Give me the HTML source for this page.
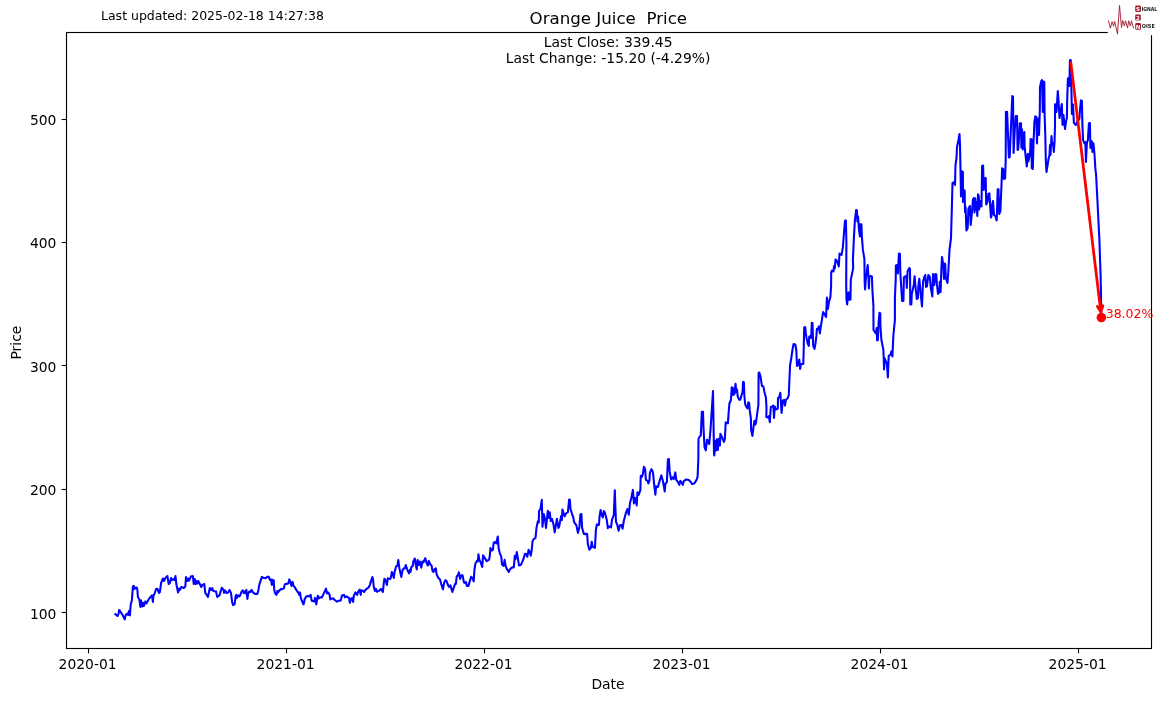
<!DOCTYPE html>
<html lang="en">
<head>
<meta charset="utf-8">
<title>Orange Juice Price</title>
<style>
html,body{margin:0;padding:0;background:#fff;}
body{width:1163px;height:701px;overflow:hidden;}
svg{display:block;mix-blend-mode:multiply;}
text{font-family:"DejaVu Sans","Liberation Sans",sans-serif;fill:#000;}
.t10{font-size:13.89px;}
.t9{font-size:12.5px;}
.t12{font-size:16.67px;}
</style>
</head>
<body>
<svg width="1163" height="701" viewBox="0 0 1163 701">
<text class="t9" x="101" y="20" >Last updated: 2025-02-18 14:27:38</text>
<text class="t12" x="608.3" y="24.3" text-anchor="middle" xml:space="preserve" style="white-space:pre">Orange Juice  Price</text>
<text class="t10" x="608.1" y="47.2" text-anchor="middle">Last Close: 339.45</text>
<text class="t10" x="608.1" y="63.3" text-anchor="middle">Last Change: -15.20 (-4.29%)</text>
<text class="t10" x="608" y="689" text-anchor="middle">Date</text>
<text class="t10" transform="translate(21.1,342.6) rotate(-90)" text-anchor="middle">Price</text>
<g stroke="#000" stroke-width="1.11" fill="none">
<line x1="61.64" y1="612.5" x2="66.5" y2="612.5"/>
<line x1="61.64" y1="489.5" x2="66.5" y2="489.5"/>
<line x1="61.64" y1="365.5" x2="66.5" y2="365.5"/>
<line x1="61.64" y1="242.5" x2="66.5" y2="242.5"/>
<line x1="61.64" y1="119.5" x2="66.5" y2="119.5"/>
<line x1="88.5" y1="648.5" x2="88.5" y2="653.36"/>
<line x1="286.5" y1="648.5" x2="286.5" y2="653.36"/>
<line x1="484.5" y1="648.5" x2="484.5" y2="653.36"/>
<line x1="682.5" y1="648.5" x2="682.5" y2="653.36"/>
<line x1="880.5" y1="648.5" x2="880.5" y2="653.36"/>
<line x1="1078.5" y1="648.5" x2="1078.5" y2="653.36"/>
</g>
<text class="t10" x="56.4" y="618.7" text-anchor="end">100</text>
<text class="t10" x="56.4" y="494.7" text-anchor="end">200</text>
<text class="t10" x="56.4" y="371.7" text-anchor="end">300</text>
<text class="t10" x="56.4" y="247.7" text-anchor="end">400</text>
<text class="t10" x="56.4" y="124.7" text-anchor="end">500</text>
<text class="t10" x="87.6" y="669.1" text-anchor="middle">2020-01</text>
<text class="t10" x="285.6" y="669.1" text-anchor="middle">2021-01</text>
<text class="t10" x="483.6" y="669.1" text-anchor="middle">2022-01</text>
<text class="t10" x="681.6" y="669.1" text-anchor="middle">2023-01</text>
<text class="t10" x="879.6" y="669.1" text-anchor="middle">2024-01</text>
<text class="t10" x="1077.6" y="669.1" text-anchor="middle">2025-01</text>
<polyline fill="none" stroke="#0000ff" stroke-width="2.08" stroke-linejoin="round" stroke-linecap="butt" points="114.5,613.7 116,614.7 117.5,616.1 118.5,613.9 119.2,609.9 120.5,611.9 122.5,614.9 124.7,619.4 125.7,614.9 127.4,613.7 128.1,614.9 128.9,611.1 129.9,615.4 130.7,604.9 131.9,599.9 132.9,586.5 133.7,585.8 134.4,589 135.4,587.8 136.7,587.5 137.4,590 137.9,596.9 139.4,599.9 140.4,606.9 141.1,600.4 142.4,606.4 143.4,602.9 143.9,605.9 145.4,601.4 146.4,603.4 148.9,598.9 151.9,595.4 152.9,601.9 153.4,595.9 154.4,594 156.1,589 157.4,588.7 158.9,593 159.9,592 161.1,583 162.9,578.5 163.9,581 165.4,578 167.4,576 168.7,584 169.9,583 171.1,578 172.1,580 173.4,579 174.4,580 175.5,576 176.3,584 178.1,592.5 179.3,588.5 179.8,590 181.3,587 183.8,588 185.3,586.5 186,577 187.3,581 188.3,578.5 189.3,580.5 190.8,576.5 192.8,576 193.8,584 194.8,579 195.8,584 196.6,581 197.3,583.5 198.3,581 199.8,584 201.3,587 202.3,585 204.3,584 205.3,593 208,596.9 209.8,588 211,590 212.3,588 213.3,591 215.8,591.5 216,591.4 217.2,596.9 219.5,595.4 220.8,590.9 221.8,587.7 223.5,589.9 224,592.9 225,590.4 226.5,592.9 228.2,592.4 229.5,589.9 231,592.9 232.1,601.9 233.1,605.1 234.7,603.9 235.6,596.4 236.2,594.9 236.9,597.9 238.1,595.4 239.4,596.4 240.4,594.9 241.4,591.9 242.7,590.4 243.7,592.9 244.4,591.4 245.2,593.4 246.4,589.9 246.9,594.4 247.4,598.9 248.1,593.9 249.4,591.4 250.4,591.9 251.7,589.9 252.9,592.4 254.9,593.9 257.4,593.9 258.4,589.9 259.4,584.4 260.7,580.4 261.9,576.9 263.4,577.9 265.9,578.1 266.9,576.9 268.7,576.7 269.9,579.9 270.9,579.4 271.9,584.9 272.7,579.9 273.7,580.4 274.2,588.9 274.9,592.9 276.4,594.9 277.4,590.9 278.1,592.4 279.4,590.4 280.9,588.9 281.8,589.4 283.8,588.4 284.8,584.4 285.8,583.9 287.3,583.9 288.3,583.4 289.3,579.4 290.3,581.9 291.5,585.9 292.6,581.9 293.6,585.9 294.8,587.4 296.3,589.9 298.3,592.9 299.3,594.9 300,592.4 300.8,597.9 302.3,601.9 303.5,604.4 304.8,598.9 306.3,596.4 307.8,595.9 309.3,596.4 310.6,594.9 311.8,600.9 313.3,601.1 314.3,601.4 315,597.9 316.3,604.4 317,599.9 317.8,595.7 318.8,598.4 320.3,597.4 321.8,596.9 322,597.4 322.8,595.4 324,592.9 326,588.7 327,593.4 328,592.4 329.5,594.4 330.3,599.4 331.5,598.9 333,598.2 334.5,599.7 337,601.7 338.9,600.7 340.9,600.4 341.9,595.4 343.9,594.9 344.9,597.4 346.4,596.4 348.9,597.9 349.9,602.7 351.1,598.4 352.4,598.1 353.1,601.9 353.9,595.4 355.4,592.4 357.1,594.9 358.1,591.9 359.7,589.7 360.7,594.9 361.4,590.4 362.9,590.7 364.1,591.9 365.9,589.4 368.4,587.7 369.9,584.9 371.4,579.9 372.4,577.1 373.1,579.9 373.7,585.9 374.9,590.9 375.9,588.9 376.9,591.7 378.9,590.9 380.9,588.9 382.9,591.9 383.7,583.9 384.4,578.7 385.9,580.9 386.9,584.9 387.8,578.4 390.3,578.9 391,576.9 391.8,572.1 393,574.4 393.8,577.9 394.6,571.9 396.1,566.4 397.3,565.9 398.3,560 399.3,567.9 401.3,577.1 402.6,569.9 403.8,568.4 404.8,568.4 405.8,565 407.3,569.9 409,573.4 409.8,569.9 410.6,571.9 411.3,567.1 412.8,565.9 413.3,561.5 414.8,558.5 415.8,565 416.8,569.4 417.6,560 418.8,565 419.8,561.5 421.3,567.7 422.3,561.5 423.3,562.5 425.3,558.2 426.8,563.5 427.8,565.4 428,565.4 428.8,560.9 430,563.9 431.5,565.4 432.5,570.9 433.5,571.9 434.5,569.4 435.8,568.4 436.5,573.9 438,577.4 440,579.4 441.5,584.9 443,589.4 444.1,582.9 445.4,580.1 446.7,581.4 447.9,584.9 449.1,586.9 450.4,585.4 451.4,588.9 452.4,591.9 453.7,587.9 455.1,583.9 455.9,583.9 456.7,576.4 457.9,575.4 458.9,572.4 460.1,578.9 461.4,575.4 462.6,575.4 463.9,582.4 464.9,582.9 465.9,581.9 466.9,585.9 468.4,585.9 469.9,580.9 471.1,576.7 472.4,577.9 473.7,581.4 474.4,569.9 475.4,563.9 476.9,560.9 477.9,561.4 478.4,554.2 479.4,559.9 480.9,562.9 482.2,566.9 483.1,555.4 484.4,557.4 486.7,561.1 489.1,559.7 489.9,555 490.4,548 491.7,550.5 492.9,550 493.6,543 494.6,542 496.3,543.5 497,540 497.8,536.5 498.6,548 499.8,553 501.3,556.9 502,564.4 503.6,565.9 504.6,559.9 505.6,565.9 506.8,568.9 508.8,571.9 510.3,568.9 512.3,567.4 513.8,567.4 514.8,555.9 515.6,558.9 516.8,552 517.8,557.9 519,565.4 520.8,564.9 522.3,561.9 523.8,557.9 525,553.8 526.3,554 527.3,556.7 528.6,549.8 529.8,552.5 530.8,555.7 531.8,549 532.6,541 533.8,539 534,538.9 535.5,537.9 536.5,527.9 537.8,521.4 538.8,522.4 539,511 540.5,509 541.8,499.8 542.5,526.7 543.8,514 545,518.9 546,527.9 547.8,510.8 548.8,517.9 549.7,512.2 550.7,520.9 551.9,518.9 553.4,523.9 554.7,532.4 556.9,518.9 558.4,527.9 559.1,526.9 560.4,519.9 561.1,516.1 561.9,519.9 562.4,509.5 563.4,512.5 564.7,516.4 565.9,513.5 567.9,512.2 569.1,499.5 569.9,500 570.4,508.5 571.9,513.5 573.4,517.9 574.1,522.1 576.4,525.4 577.9,532.9 579.4,526.9 580.4,514.5 581.4,514 582.1,527.9 583.9,533.9 585.4,534.1 587.1,533.9 587.9,544.4 589.4,549.7 590.9,547.9 591.7,541.7 592.7,546.9 594.9,547.9 595.9,529.9 596.9,524.4 598.9,524.9 599.6,516.1 600.6,510 601.6,515 602.8,517.4 603.8,511 604.8,512.5 606.8,519.9 607.8,528.1 609.3,526.4 611,527.4 612,519.9 613.8,515 614.8,490.4 615.3,505 616,521.9 617.3,524.9 618.6,530.7 619.8,525.4 621.3,524.9 622.6,528.7 623.8,520.9 625.8,513.2 627.3,509 628.8,514.8 630,503 631.3,498 632.9,489.9 633.9,503.4 635.1,497.9 636.7,505.4 637.4,492.4 638.7,494.9 639.7,491.9 640.4,489.9 640.7,475.9 641.9,476.9 642.9,473.9 643.9,466.7 645.1,468.9 645.9,479.9 647.4,480.7 648.4,483.4 649.4,480.9 649.9,472.9 651.4,469.1 652.9,471.9 654.4,486.9 655.4,494.7 656.1,486.4 657.9,486.9 659.9,479.9 661.4,475.4 662.9,480.9 664.7,491.4 665.4,483.9 666.9,481.9 667.9,459.5 668.9,459 669.7,471.9 671.1,479.4 672.4,477.4 673.7,479.1 674.4,476.9 675.3,472.4 676.3,479.9 677.8,481.9 679.3,484.9 680.3,480.9 681.3,481.9 682.8,484.9 683.8,481.1 686.3,479.4 688.8,479.9 690.8,481.9 692,484.1 694.3,483.4 696.3,480.4 697.6,476.9 698.3,460 698.5,438.9 699.5,436.9 700.8,435.4 701.8,411.9 703,411.7 703.5,427.9 704.5,446.9 705.8,450.4 707,439.7 708,440.9 709.2,444.1 710.5,429.9 711.8,410 713,391 714,453.9 714.3,455.4 715.4,440.9 716.1,450.4 716.9,439.4 717.9,449.9 718.7,438.9 719.9,445.4 720.4,433.9 721.9,436.9 722.9,439.4 723.9,441.9 724.9,438.9 725.7,422.4 726.9,422.9 727.9,423.4 728.7,411.9 729.4,403.5 730.9,400 731.7,388 731.8,387.4 732.8,387.7 733.2,394.9 734.5,393.9 735.5,383.7 736.3,391.9 737,389.4 737.7,396.4 739.2,399.7 740.3,399.7 741.6,394.9 742.5,392.4 743.1,381.9 743.9,382.4 744.4,395.9 745.2,404.4 746.4,406.9 747.5,408.4 748.3,402.4 749.1,402.9 749.7,409.9 750.9,418.9 751.1,429.9 752.4,435.9 753.4,427.9 754.4,420.9 755.4,424.4 756.1,421.9 757.4,411.9 758.4,405 758.6,372.9 759.1,372.4 760.4,375.9 761.9,385.9 763.4,386.4 764.4,391.9 765.9,397.4 766.5,407.9 766.3,416.9 767.8,417.4 768.8,416.1 769.8,422.1 770.8,407 772.3,406.5 773.3,405.5 774,417.9 774.8,406.5 775.8,409.5 777.8,408.5 778,398 779.3,397 780.3,392.8 781.6,412.9 782.8,400.5 784.3,400 785,405.5 785.8,400 787.8,398 788.8,395 789.4,379.9 790.1,365 791.3,358 792.6,349 793.6,344 795.3,344.5 796.3,350 797,365.9 798.3,365 799.3,359.5 800.1,368.9 801,364 803.3,364 803.8,345 804.2,327.4 805.2,327.1 805.8,332.9 806.5,337.9 807.8,343.9 808.8,345.9 809.2,336.9 810.5,335.9 811.2,337.9 811.8,322.9 812.5,323.1 813.2,345.9 814.5,348.9 815.4,343.9 816.4,335.9 816.9,328.9 818.1,329.1 818.9,326.4 819.9,333.4 820.9,325.9 821.9,319.9 823.1,312.1 824.4,313.9 826.1,316.9 826.9,297.5 827.9,308.9 828.9,302 830.4,297 831.1,286 831.2,272.5 832,270.5 833.5,271.5 834,266 834.8,268.5 835.5,259.5 836.8,260.5 838.8,266.5 839.5,253.5 840.5,254.2 841.5,255 842.8,247.9 844,232.9 845,220.5 845.9,220.5 846.4,241.9 846.2,284.9 846.5,299.9 847.2,304.4 848,292.9 848.8,292.4 849.5,299.9 850.5,299.4 850.8,279.9 852,274 853.2,268 852.9,259.9 853.9,237.9 854.9,220 856.1,210 856.9,210.5 857.4,221.5 858.1,216.5 858.9,228.9 859.9,236.4 860.7,224 861.4,224.5 861.9,236.9 862.9,249.9 864.4,258.9 864.7,282.9 865.1,289.4 865.9,277.9 866.7,273 867.7,265 868.4,275.9 868.9,288.4 869.4,276.4 870.9,276.1 871.9,276.4 872.4,289.9 873.4,305.9 873.5,330 875.9,333.5 876.7,328 877.1,340.4 877.9,340 878.7,321 879.5,312.9 880.3,313.4 880.4,325 881.4,340 883.4,349.9 884.1,369.4 884.7,358.4 886.9,363.9 887.9,377.4 888.7,355.9 890.4,354.9 891.4,351.4 892.4,356.4 893.4,335 894.9,320 894.9,297.9 895.7,279.9 895.9,265.5 897.1,265 897.9,273.5 898.9,253.5 899.9,254 900.4,273.5 901.4,289.9 902.1,300.9 903.4,300.9 903.9,277.4 905.3,276.4 906.3,275.9 906.8,287.9 907.6,271.5 909.3,268 910,269 910.3,304.4 911.3,304.4 911.8,293.9 913.8,284.9 914.6,276.4 915.6,287.9 916.8,298.9 918,297.9 918.3,286.9 919.3,278.9 920.3,289.9 922,306.4 923,281.9 924.3,276.9 925.3,275 926,286.9 927,286.4 928.3,275 929.8,276.9 930.8,287.9 932.3,296.4 933,274 934.3,284.9 935.3,274 936.3,274.5 937,284.9 938,293.9 939.3,292.4 939.8,281.9 940.6,291.9 941.3,270 942,257 943.3,265 944,278.9 944.8,263.5 945.3,264.5 945.8,278 947.5,283 948.3,272 949.5,250 951,238 951.8,210 952.5,183 954,182 955,185 955.5,165 956.5,158 957,147 958.5,140 959.5,134 960,145 960.5,170 961,196.4 962.1,171.4 962.9,172 963,202 963.9,190 964.7,191 965,212 965.6,207 966.4,230.4 967.7,228 968.4,209 969.9,206 970.7,225 971.9,213 972.9,200 973.8,198 974.5,212.5 975.2,198.4 975.9,210 976.4,202 977.3,216 978,194.4 978.8,196 979.2,209.5 979.8,202 980.4,201 981.5,206.5 982.1,166 983.1,165.5 983.7,190 984.4,178.4 985.7,178 986.2,204.5 987.4,202 988.4,194 989.4,193.4 990.9,217.5 991.6,216 992.4,204 993,201 994,215 995.4,216 996.7,220.5 997.7,189.4 998.5,189.4 999.2,214 1000.4,211 1001.7,180 1002.1,168.4 1003.1,169 1003.9,179 1005.1,178.4 1005.7,160 1005.9,112 1007.1,111.7 1008.9,157.5 1009.7,157 1012.3,96 1013,96.5 1013.6,153 1014.8,129 1015.8,116 1017,116 1017.6,150 1018.2,149.5 1018.8,141 1019.8,123.4 1021,123.4 1021.4,147.5 1022,129.4 1022.8,149.5 1024.3,132 1024.6,146 1025.3,153 1026.8,166.5 1027.8,154 1028.3,161.5 1029.3,158 1030.3,150 1030.6,139 1031.6,139.4 1031.8,168 1032.8,169 1033.6,140 1033.9,135 1034.3,123 1035.3,116.4 1036.3,117 1037,143.4 1037.6,119 1038.6,118.4 1039,135 1039.8,111 1040,87 1041.3,81 1042,80 1042.8,112 1043.3,81.5 1044.3,82 1044.6,115 1045.3,135 1045.8,160 1046.5,172 1048.5,159 1049.5,155 1050,145 1050.5,155 1051.5,136 1052.2,145 1053,143 1053.8,152 1054.5,143 1055,125 1055,104.4 1056,104.4 1056.5,112 1057.8,91 1058.5,100 1059.5,118 1060.5,112 1061.8,104 1062.5,125 1063.5,115 1065,129 1066.1,121 1066.9,118 1067.2,100 1067.9,78.4 1068.9,78 1069.4,86 1069.9,60.5 1070.7,60 1071.1,75 1071.9,114 1073,104.5 1073.5,115 1073.9,123 1075.9,125 1077.5,121 1079.4,119 1079.9,111 1080.9,100.4 1081.9,101 1082.4,125 1083.1,140 1084.4,143.4 1085.4,142 1085.9,162 1086.9,143 1087.9,140 1088.9,123.5 1089.9,123 1090.4,148 1090.9,141 1091.9,141.4 1092.4,152 1093.4,143.4 1094.4,153 1095.4,169 1096.1,175 1097.4,200 1098.4,220 1099.4,240 1099.9,255 1100.6,275 1101,295 1101.3,317.5"/>
<rect x="66.5" y="32.5" width="1085.0" height="616.0" fill="none" stroke="#000" stroke-width="1.11"/>
<g stroke="#ff0000" stroke-width="2.78" fill="none" stroke-linecap="round" stroke-linejoin="round">
<line x1="1070.85" y1="62.8" x2="1100.8" y2="311.7"/>
<polyline points="1097.4,306.5 1100.8,311.7 1102.9,305.8"/>
</g>
<circle cx="1101.35" cy="317.55" r="4.75" fill="#ff0000"/>
<text class="t9" x="1101.2" y="317.8" style="fill:#ff0000">-38.02%</text>
<g id="logo">
<rect x="1107.8" y="0" width="55.2" height="35.2" fill="#ffffff"/>
<polyline fill="none" stroke="#a01c30" stroke-width="1.0" stroke-opacity="0.92" stroke-linejoin="round" stroke-linecap="round" points="1108.4,20.8 1110.4,28.2 1112.1,21.7 1113.6,26.2 1114.7,21.4 1117.5,34.2 1119.5,5.4 1121.5,27.4 1122.7,20.5 1124.4,26 1125.5,20.8 1127.5,28 1128.7,20.8 1130.4,26 1131.5,20.8 1133.5,28"/>
<rect x="1135.2" y="5.4" width="5.8" height="6.7" rx="1.3" fill="#a01c30"/>
<rect x="1135.2" y="14.4" width="5.6" height="6.2" rx="1.3" fill="#a01c30"/>
<rect x="1135.2" y="23.1" width="5.8" height="6.7" rx="1.3" fill="#a01c30"/>
<g style="font-family:'Liberation Sans','DejaVu Sans',sans-serif;font-weight:bold;">
<text transform="translate(1138.1,11.1) scale(0.5)" text-anchor="middle" style="font-size:11px;fill:#ffffff">S</text>
<text transform="translate(1138,19.8) scale(0.5)" text-anchor="middle" style="font-size:11px;fill:#ffffff">2</text>
<text transform="translate(1138.1,28.8) scale(0.5)" text-anchor="middle" style="font-size:11px;fill:#ffffff">N</text>
<text transform="translate(1141.7,11.1) scale(0.5)" style="font-size:11px;fill:#1a1a1a" textLength="31" lengthAdjust="spacingAndGlyphs">IGNAL</text>
<text transform="translate(1141.7,28.2) scale(0.5)" style="font-size:11px;fill:#1a1a1a" textLength="26.2" lengthAdjust="spacingAndGlyphs">OISE</text>
</g>
</g>
</svg>
</body>
</html>
